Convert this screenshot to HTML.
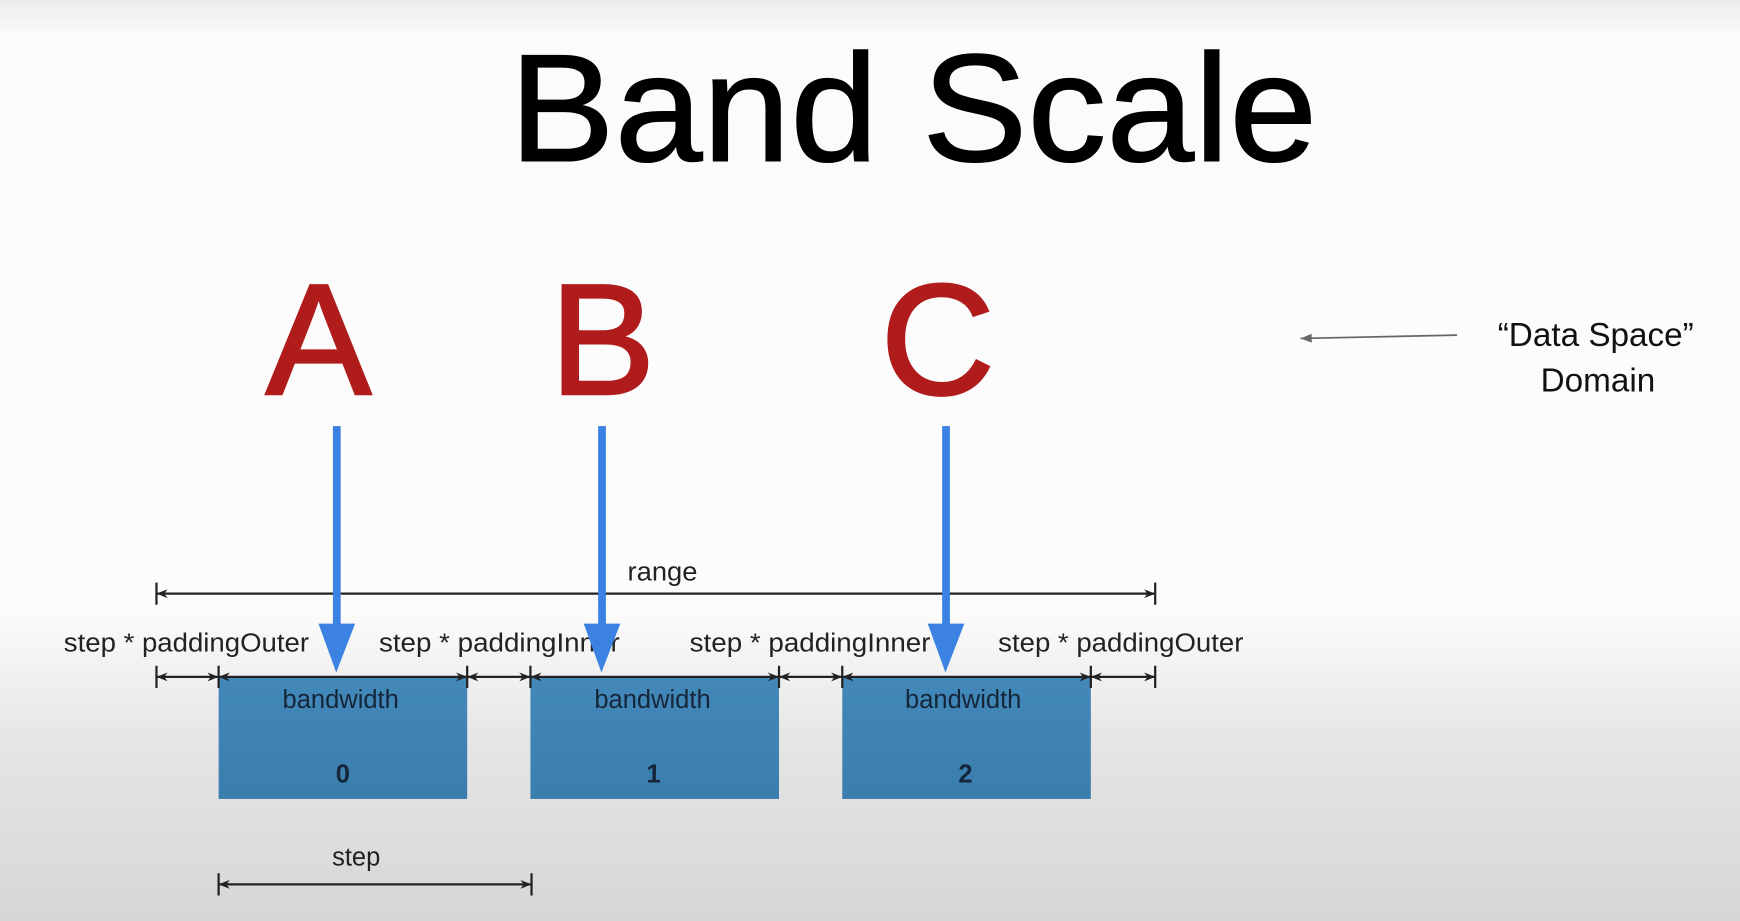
<!DOCTYPE html>
<html><head><meta charset="utf-8"><style>
html,body{margin:0;padding:0;width:1740px;height:921px;overflow:hidden}
svg{display:block}
text{font-family:"Liberation Sans",sans-serif}
</style></head><body>
<svg width="1740" height="921" viewBox="0 0 1568 830" preserveAspectRatio="none" xmlns="http://www.w3.org/2000/svg">
<defs>
<linearGradient id="bg" x1="0" y1="0" x2="0" y2="1">
<stop offset="0" stop-color="#ececec"/><stop offset="0.04" stop-color="#fbfbfb"/><stop offset="0.66" stop-color="#fcfcfc"/><stop offset="0.8" stop-color="#e6e6e6"/><stop offset="1" stop-color="#d6d6d6"/>
</linearGradient>
<linearGradient id="bx" x1="0" y1="0" x2="0" y2="1"><stop offset="0" stop-color="#4288b8"/><stop offset="1" stop-color="#3a7eae"/></linearGradient>
<marker id="ah" viewBox="0 0 10 10" refX="10" refY="5" markerWidth="10" markerHeight="10" markerUnits="userSpaceOnUse" orient="auto-start-reverse"><path d="M0,1 L10,5 L0,9 L3,5z" fill="#222"/></marker>
<marker id="gh" viewBox="0 0 10 10" refX="10" refY="5" markerWidth="12" markerHeight="10" markerUnits="userSpaceOnUse" orient="auto"><path d="M0,1 L10,5 L0,9 z" fill="#666"/></marker>
</defs>
<rect width="1568" height="830" fill="url(#bg)"/>
<text x="823" y="145" font-size="138" text-anchor="middle" fill="#000" stroke="#000" stroke-width="1.2" textLength="728" lengthAdjust="spacingAndGlyphs">Band Scale</text>
<g font-size="142" fill="#b01c1c" stroke="#b01c1c" stroke-width="2.5" text-anchor="middle">
<text x="287" y="355">A</text><text x="543" y="355">B</text><text x="845" y="355">C</text></g>
<line x1="1313" y1="302" x2="1172" y2="305" stroke="#666" stroke-width="1.5" marker-end="url(#gh)"/>
<g font-size="30" fill="#111" text-anchor="middle"><text x="1438" y="312">“Data Space”</text><text x="1440" y="353">Domain</text></g>
<g fill="url(#bx)"><rect x="197" y="610" width="224" height="110"/><rect x="478" y="610" width="224" height="110"/><rect x="759" y="610" width="224" height="110"/></g>
<g stroke="#222" stroke-width="2" fill="none">
<line x1="141" y1="535" x2="1041" y2="535" marker-start="url(#ah)" marker-end="url(#ah)"/>
<line x1="141" y1="525" x2="141" y2="545"/><line x1="1041" y1="525" x2="1041" y2="545"/>
<g marker-start="url(#ah)" marker-end="url(#ah)">
<line x1="141" y1="610" x2="197" y2="610"/><line x1="197" y1="610" x2="421" y2="610"/><line x1="421" y1="610" x2="478" y2="610"/><line x1="478" y1="610" x2="702" y2="610"/><line x1="702" y1="610" x2="759" y2="610"/><line x1="759" y1="610" x2="983" y2="610"/><line x1="983" y1="610" x2="1041" y2="610"/>
<line x1="197" y1="797" x2="479" y2="797"/></g>
<path d="M141 600V620M197 600V620M421 600V620M478 600V620M702 600V620M759 600V620M983 600V620M1041 600V620M197 787V807M479 787V807"/>
</g>
<g font-size="23" fill="#222" text-anchor="middle">
<text x="597" y="523" textLength="63" lengthAdjust="spacingAndGlyphs">range</text>
<text x="168" y="587" textLength="221" lengthAdjust="spacingAndGlyphs">step * paddingOuter</text><text x="450" y="587" textLength="217" lengthAdjust="spacingAndGlyphs">step * paddingInner</text><text x="730" y="587" textLength="217" lengthAdjust="spacingAndGlyphs">step * paddingInner</text><text x="1010" y="587" textLength="221" lengthAdjust="spacingAndGlyphs">step * paddingOuter</text>
<text x="321" y="780">step</text>
<g fill="#15263a"><text x="307" y="638">bandwidth</text><text x="588" y="638">bandwidth</text><text x="868" y="638">bandwidth</text>
<g font-weight="bold"><text x="309" y="705">0</text><text x="589" y="705">1</text><text x="870" y="705">2</text></g></g>
</g>
<g fill="#3b82e2"><rect x="300" y="384" width="7" height="180"/><path d="M287 562H320L303 606z"/>
<rect x="539" y="384" width="7" height="180"/><path d="M526 562H559L542 606z"/>
<rect x="849" y="384" width="7" height="180"/><path d="M836 562H869L852 606z"/></g>
</svg>
</body></html>
